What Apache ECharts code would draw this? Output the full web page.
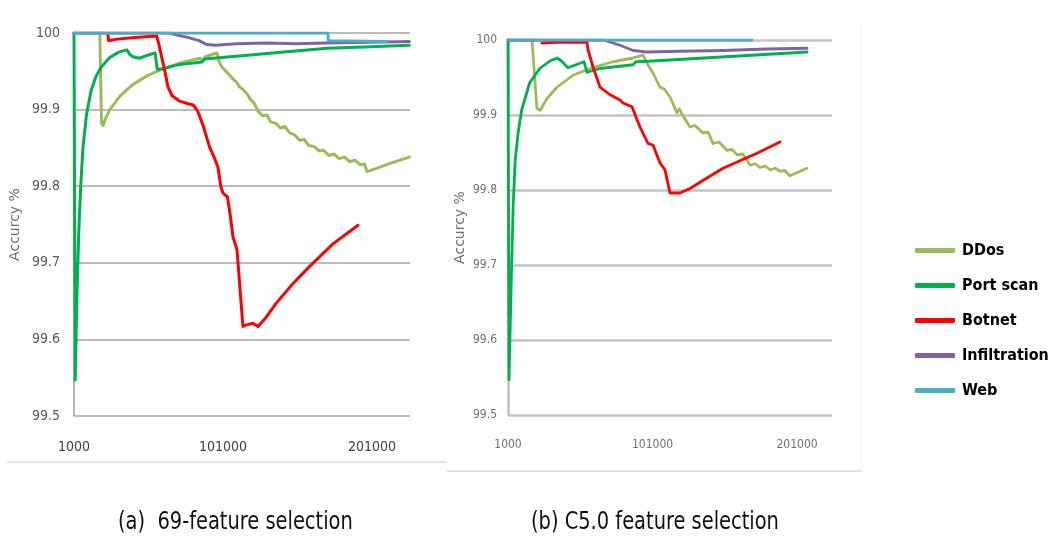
<!DOCTYPE html>
<html>
<head>
<meta charset="utf-8">
<script src="https://cdn.jsdelivr.net/npm/echarts@6/dist/echarts.min.js"></script>
<style>
  html, body { margin: 0; padding: 0; background: #ffffff; }
  #chart { width: 1054px; height: 541px; }
</style>
</head>
<body>
<div id="chart"></div>
<script>
// Accuracy (%) against number of processed samples, per attack class.
const seriesNames = ['DDos', 'Port scan', 'Botnet', 'Infiltration', 'Web'];
const seriesColors = ['#9BBB59', '#00B050', '#FF0000', '#8064A2', '#4BACC6'];
const xTickValues = [1000, 101000, 201000];
const yTickLabels = ['99.5', '99.6', '99.7', '99.8', '99.9', '100'];
const captions = ['(a)  69-feature selection', '(b) C5.0 feature selection'];

// (a) 69-feature selection
const ddosA = [
  [1000, 100], [18300, 100], [19500, 99.882], [20600, 99.879], [22000, 99.888],
  [25000, 99.900], [32000, 99.918], [40000, 99.932], [50000, 99.944], [59000, 99.952],
  [74000, 99.962], [85500, 99.967], [87500, 99.964], [89000, 99.969], [97000, 99.974],
  [98500, 99.962], [100500, 99.955], [103500, 99.949], [105000, 99.946], [107700, 99.940],
  [110000, 99.936], [112000, 99.930], [114500, 99.926], [117000, 99.921], [119500, 99.913],
  [122000, 99.908], [124500, 99.898], [127500, 99.892], [130500, 99.893], [133000, 99.884],
  [136500, 99.882], [139500, 99.876], [142500, 99.878], [145500, 99.870], [149000, 99.867],
  [152500, 99.860], [155500, 99.861], [158500, 99.853], [162000, 99.852], [165500, 99.846],
  [168500, 99.847], [172000, 99.840], [175500, 99.842], [179000, 99.836], [182500, 99.838],
  [186000, 99.832], [189500, 99.834], [193000, 99.828], [196000, 99.829], [197600, 99.819],
  [205000, 99.824], [215000, 99.831], [226000, 99.838]
];
const portScanA = [
  [1000, 100], [1800, 99.547], [3000, 99.66], [4200, 99.74], [5500, 99.80],
  [7000, 99.85], [9500, 99.895], [12500, 99.925], [15500, 99.942], [19000, 99.955],
  [25000, 99.968], [31000, 99.975], [36500, 99.978], [38500, 99.972], [40500, 99.969],
  [45000, 99.967], [50500, 99.971], [55500, 99.974], [56800, 99.953], [60000, 99.953],
  [72000, 99.959], [87000, 99.962], [88500, 99.966], [112000, 99.970], [140000, 99.975],
  [171000, 99.980], [200000, 99.982], [226000, 99.984]
];
const botnetA = [
  [23800, 99.998], [24200, 99.990], [30000, 99.992], [42000, 99.994], [56500, 99.996],
  [58000, 99.985], [60000, 99.967], [62000, 99.950], [64000, 99.930], [66800, 99.918],
  [72000, 99.911], [77000, 99.908], [81000, 99.906], [84000, 99.898], [87500, 99.880],
  [92000, 99.851], [95000, 99.838], [97600, 99.825], [99500, 99.800], [101000, 99.791],
  [104000, 99.786], [106000, 99.760], [107700, 99.734], [110400, 99.717], [113000, 99.651],
  [114400, 99.617], [117000, 99.619], [121000, 99.621], [124500, 99.617], [130000, 99.629],
  [137000, 99.648], [148000, 99.673], [160000, 99.697], [175000, 99.725], [191600, 99.749]
];
const infiltrationA = [
  [1000, 100], [65000, 100], [71000, 99.997], [78000, 99.994], [85000, 99.990],
  [90000, 99.985], [96000, 99.984], [110000, 99.986], [130000, 99.987], [150000, 99.986],
  [170000, 99.987], [200000, 99.988], [226000, 99.989]
];
const webA = [
  [1000, 100], [171400, 100], [171600, 99.990], [211000, 99.989]
];

// (b) C5.0 feature selection
const ddosB = [
  [1000, 100], [17600, 100], [21000, 99.909], [23100, 99.906], [28000, 99.922],
  [34900, 99.937], [46000, 99.953], [57700, 99.962], [73700, 99.971], [87500, 99.976],
  [94400, 99.980], [97200, 99.969], [101300, 99.956], [106200, 99.937], [109000, 99.935],
  [113100, 99.924], [117900, 99.903], [119500, 99.908], [122100, 99.899], [126900, 99.884],
  [130500, 99.886], [135900, 99.876], [139500, 99.877], [142900, 99.862], [147000, 99.864],
  [152500, 99.853], [156000, 99.854], [159500, 99.847], [163500, 99.848], [168500, 99.833],
  [172000, 99.835], [175400, 99.830], [179000, 99.832], [182300, 99.827], [186000, 99.829],
  [189200, 99.825], [192500, 99.826], [196100, 99.819], [202000, 99.824], [207900, 99.829]
];
const portScanB = [
  [1000, 100], [1700, 99.547], [3500, 99.70], [4600, 99.78], [6000, 99.84],
  [8000, 99.876], [10500, 99.907], [16000, 99.943], [23000, 99.962], [30000, 99.972],
  [35000, 99.976], [38000, 99.972], [40500, 99.967], [42500, 99.963], [50800, 99.969],
  [53600, 99.971], [55700, 99.957], [64700, 99.962], [87500, 99.967], [89500, 99.971],
  [101000, 99.972], [145600, 99.977], [207900, 99.984]
];
const botnetB = [
  [24500, 99.996], [35000, 99.997], [55600, 99.997], [56400, 99.987], [59800, 99.964],
  [64700, 99.937], [71600, 99.927], [78500, 99.920], [80600, 99.916], [86800, 99.911],
  [92300, 99.884], [97900, 99.862], [101300, 99.860], [106200, 99.836], [109600, 99.827],
  [113100, 99.796], [120000, 99.796], [126900, 99.802], [137000, 99.814], [149800, 99.829],
  [173300, 99.849], [189200, 99.864]
];
const infiltrationB = [
  [1000, 100], [66700, 100], [72000, 99.997], [78500, 99.993], [87500, 99.986],
  [97000, 99.984], [120000, 99.985], [150000, 99.986], [180000, 99.988], [207900, 99.989]
];
const webB = [
  [1000, 100], [169800, 100]
];

const panelData = [
  [ddosA, portScanA, botnetA, infiltrationA, webA],
  [ddosB, portScanB, botnetB, infiltrationB, webB]
];

const narrow = '"Liberation Sans Narrow", "DejaVu Sans Condensed", "Open Sans", sans-serif';

const chart = echarts.init(document.getElementById('chart'), null, { renderer: 'canvas' });

const grids = [
  { left: 74, top: 33, width: 336, height: 383 },
  { left: 508, top: 40, width: 324, height: 375 }
];
const xMax = [226500, 225200];
const panelStyle = [
  { grid: '#a6a6a6', gridW: 1.6, ySize: 14, xSize: 14, xColor: '#404040', yColor: '#595959', nameGap: 52, lineW: 3 },
  { grid: '#c4c4c4', gridW: 2.6, ySize: 12, xSize: 12, xColor: '#707070', yColor: '#707070', nameGap: 41, lineW: 2.8 }
];

const xAxes = grids.map((g, i) => ({
  type: 'value',
  gridIndex: i,
  min: 1000,
  max: xMax[i],
  axisLine: { show: false },
  axisTick: { show: false },
  splitLine: { show: false },
  axisLabel: {
    customValues: xTickValues,
    fontFamily: narrow,
    fontSize: panelStyle[i].xSize,
    color: panelStyle[i].xColor,
    margin: 24,
    formatter: v => String(v)
  }
}));

const yAxes = grids.map((g, i) => ({
  type: 'value',
  gridIndex: i,
  min: 99.5,
  max: 100,
  interval: 0.1,
  name: 'Accurcy %',
  nameLocation: 'middle',
  nameGap: panelStyle[i].nameGap,
  nameRotate: 90,
  nameTextStyle: { fontFamily: 'DejaVu Sans', fontSize: 14, color: '#6f6f6f' },
  axisLine: { show: true, lineStyle: { color: panelStyle[i].grid, width: panelStyle[i].gridW } },
  axisTick: { show: false },
  splitLine: { show: true, lineStyle: { color: panelStyle[i].grid, width: panelStyle[i].gridW } },
  axisLabel: {
    fontFamily: narrow,
    fontSize: panelStyle[i].ySize,
    color: panelStyle[i].yColor,
    margin: i === 0 ? 14 : 11,
    formatter: v => yTickLabels[Math.round((v - 99.5) * 10)]
  }
}));

const series = [];
panelData.forEach((sets, p) => {
  sets.forEach((data, k) => {
    series.push({
      name: seriesNames[k],
      type: 'line',
      xAxisIndex: p,
      yAxisIndex: p,
      data: data,
      showSymbol: false,
      symbol: 'none',
      smooth: false,
      clip: true,
      lineStyle: { color: seriesColors[k], width: panelStyle[p].lineW, cap: 'round', join: 'round' },
      itemStyle: { color: seriesColors[k] },
      emphasis: { disabled: true },
      z: 2 + k
    });
  });
});

const option = {
  animation: false,
  backgroundColor: '#ffffff',
  grid: grids.map(g => Object.assign({ containLabel: false }, g)),
  xAxis: xAxes,
  yAxis: yAxes,
  legend: {
    data: seriesNames,
    orient: 'vertical',
    left: 910,
    top: 235,
    itemWidth: 40,
    itemHeight: 5,
    itemGap: 14,
    icon: 'roundRect',
    textStyle: { fontFamily: narrow, fontWeight: 'bold', fontSize: 16, color: '#000000', lineHeight: 21, padding: [0, 0, 0, 2] }
  },
  graphic: [
    // frame lines around each panel's chart area
    { type: 'line', shape: { x1: 7, y1: 462, x2: 447, y2: 462 }, style: { stroke: '#e3e3e3', lineWidth: 2 }, silent: true },
    { type: 'line', shape: { x1: 447, y1: 471, x2: 861, y2: 471 }, style: { stroke: '#e3e3e3', lineWidth: 2 }, silent: true },
    { type: 'line', shape: { x1: 861, y1: 24, x2: 861, y2: 471 }, style: { stroke: '#f0f0f0', lineWidth: 1 }, silent: true },
    { type: 'text', x: 118, y: 511, scaleX: 0.9, style: { x: 0, y: 0, text: captions[0], font: '24px ' + narrow, fill: '#111111', verticalAlign: 'top' }, silent: true },
    { type: 'text', x: 531, y: 511, scaleX: 0.9, style: { x: 0, y: 0, text: captions[1], font: '24px ' + narrow, fill: '#111111', verticalAlign: 'top' }, silent: true }
  ],
  series: series
};

chart.setOption(option);
</script>
</body>
</html>
